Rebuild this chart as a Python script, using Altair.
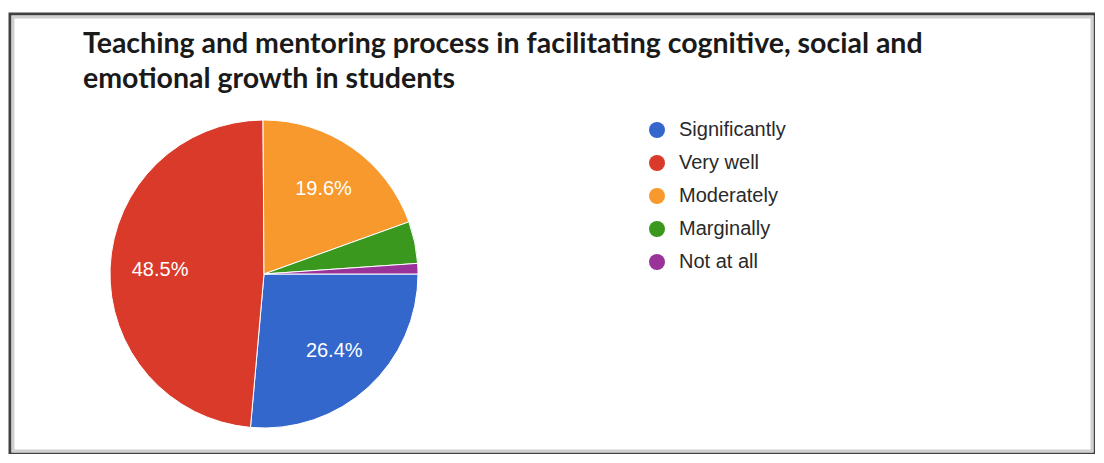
import math
import altair as alt
import pandas as pd

# ---- data ----
categories = ["Significantly", "Very well", "Moderately", "Marginally", "Not at all"]
values = [26.4, 48.5, 19.6, 4.4, 1.1]
colors = ["#3467cc", "#da3a2a", "#f7992c", "#3a981e", "#993399"]
title_lines = [
    "Teaching and mentoring process in facilitating cognitive, social and",
    "emotional growth in students",
]

df = pd.DataFrame({
    "category": categories,
    "value": values,
    "idx": list(range(len(categories))),
    "label": [f"{v:.1f}%" if v >= 5 else "" for v in values],
})

W, H = 1085, 440
CX, CY, R = 254, 260, 154

theta = alt.Theta("value:Q", stack=True,
                  scale=alt.Scale(domain=[0, 100], range=[math.pi / 2, math.pi / 2 + 2 * math.pi]))
order = alt.Order("idx:Q", sort="ascending")

frame_shadow = alt.Chart(pd.DataFrame({"f": [0]})).mark_rect(
    filled=False, stroke="#d0d0d0", strokeWidth=3,
).encode(x=alt.value(3), x2=alt.value(W - 3), y=alt.value(3), y2=alt.value(H - 3))

pie = alt.Chart(df).mark_arc(radius=R, stroke="white", strokeWidth=1).encode(
    theta=theta,
    order=order,
    x=alt.value(CX),
    y=alt.value(CY),
    color=alt.Color(
        "category:N",
        sort=categories,
        scale=alt.Scale(domain=categories, range=colors),
        legend=alt.Legend(
            title=None,
            orient="none",
            legendX=637,
            legendY=106,
            symbolType="circle",
            symbolSize=256,
            symbolStrokeWidth=0,
            labelFont="Liberation Sans",
            labelFontSize=20,
            labelColor="#2a2a2a",
            labelOffset=12,
            rowPadding=13,
        ),
    ),
)

labels = alt.Chart(df).mark_text(
    radius=104, font="Liberation Sans", fontSize=20, color="white",
    align="center", baseline="middle",
).encode(
    theta=theta,
    order=order,
    x=alt.value(CX),
    y=alt.value(CY),
    text="label:N",
)

title = alt.Chart(pd.DataFrame({"t": [0]})).mark_text(
    text=title_lines, font="Lato", fontWeight="bold", fontSize=28.5,
    lineHeight=35, align="left", baseline="alphabetic", color="#1a1a1a",
).encode(x=alt.value(73), y=alt.value(39))

chart = alt.layer(frame_shadow, pie, labels, title).properties(
    width=W, height=H,
    padding={"left": 2, "top": 6, "right": 0, "bottom": 0},
    autosize=alt.AutoSizeParams(type="none"),
).configure_view(stroke="#404040", strokeWidth=3)

chart.save("out.html", embed_options={"renderer": "svg", "actions": False})
